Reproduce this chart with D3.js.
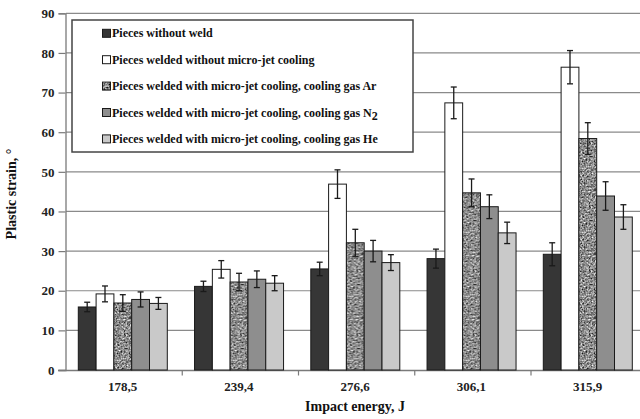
<!DOCTYPE html>
<html><head><meta charset="utf-8">
<script src="https://cdn.jsdelivr.net/npm/d3@7"></script>
<style>
html,body{margin:0;padding:0;background:#fff;}
svg{display:block;}
svg text{font-family:"Liberation Serif","Times New Roman",Times,"DejaVu Serif",serif !important;font-weight:bold;}
</style></head>
<body>
<svg id="chart" width="640" height="419"></svg>
<script>
const categories = ["178,5","239,4","276,6","306,1","315,9"];
const seriesNames = [
  "Pieces without weld",
  "Pieces welded without micro-jet cooling",
  "Pieces welded with micro-jet cooling, cooling gas Ar",
  "Pieces welded with micro-jet cooling, cooling gas N2",
  "Pieces welded with micro-jet cooling, cooling gas He"
];
const withoutWeld    = [15.9, 21.1, 25.5, 28.1, 29.2];
const withoutCooling = [19.2, 25.4, 46.9, 67.4, 76.4];
const gasAr          = [16.9, 22.2, 32.1, 44.7, 58.4];
const gasN2          = [17.8, 22.9, 30.0, 41.2, 43.9];
const gasHe          = [16.8, 21.9, 27.1, 34.6, 38.6];
const errWithoutWeld    = [1.2, 1.3, 1.7, 2.4, 2.9];
const errWithoutCooling = [2.0, 2.2, 3.6, 4.0, 4.2];
const errAr             = [2.1, 2.2, 3.4, 3.5, 4.0];
const errN2             = [1.9, 2.1, 2.7, 3.0, 3.6];
const errHe             = [1.5, 1.9, 2.0, 2.7, 3.1];
const yTicks = [0,10,20,30,40,50,60,70,80,90];

const values = [withoutWeld, withoutCooling, gasAr, gasN2, gasHe];
const errors = [errWithoutWeld, errWithoutCooling, errAr, errN2, errHe];
const fills = ["#363636", "#ffffff", "url(#speckle)", "#8e8e8e", "#c9c9c9"];

const svg = d3.select("#chart");
const defs = svg.append("defs");
const f = defs.append("filter").attr("id","noiseF")
  .attr("x",0).attr("y",0).attr("width",64).attr("height",64)
  .attr("filterUnits","userSpaceOnUse")
  .attr("color-interpolation-filters","sRGB");
f.append("feTurbulence").attr("type","fractalNoise").attr("baseFrequency",0.6)
  .attr("numOctaves",2).attr("seed",7).attr("result","t");
f.append("feColorMatrix").attr("type","matrix")
  .attr("values","0.75 0.75 0.75 0 -0.58  0.75 0.75 0.75 0 -0.58  0.75 0.75 0.75 0 -0.58  0 0 0 0 1");
const pat = defs.append("pattern").attr("id","speckle").attr("patternUnits","userSpaceOnUse")
  .attr("width",64).attr("height",64);
pat.append("rect").attr("width",64).attr("height",64).attr("fill","#8a8a8a");
pat.append("rect").attr("width",64).attr("height",64).attr("filter","url(#noiseF)");

const x0 = d3.scaleBand().domain(categories).range([66, 647.25]).padding(0);
const x1 = d3.scaleBand().domain(d3.range(5)).range([12.3, 101.3]).padding(0);
const y = d3.scaleLinear().domain([0,90]).range([370, 13.3]);

// gridlines
svg.append("g").selectAll("line").data(yTicks.filter(d=>d>0)).join("line")
  .attr("x1",66).attr("x2",647).attr("y1",d=>y(d)).attr("y2",d=>y(d))
  .attr("stroke","#8a8a8a").attr("stroke-width",1.2);

// y axis
const yAxis = svg.append("g").attr("transform","translate(65.5,0)")
  .call(d3.axisLeft(y).tickValues(yTicks).tickSize(7).tickPadding(4).tickFormat(d3.format("d")));
yAxis.attr("font-family",null);
yAxis.select(".domain").attr("stroke","#7a7a7a").attr("stroke-width",1.3);
yAxis.selectAll(".tick line").attr("stroke","#7a7a7a").attr("stroke-width",1.2);
yAxis.selectAll("text").attr("font-size",13).attr("fill","#222");

// x axis
const xAxis = svg.append("g").attr("transform","translate(0,370.5)");
xAxis.append("line").attr("x1",58).attr("x2",647).attr("stroke","#7a7a7a").attr("stroke-width",1.3);
xAxis.selectAll("line.tk").data(categories).join("line").attr("class","tk")
  .attr("x1",d=>x0(d)+x0.bandwidth()).attr("x2",d=>x0(d)+x0.bandwidth())
  .attr("y1",0).attr("y2",5).attr("stroke","#7a7a7a").attr("stroke-width",1.2);
xAxis.selectAll("text").data(categories).join("text")
  .attr("x",d=>x0(d)+x0.bandwidth()/2-1.5).attr("y",20)
  .attr("text-anchor","middle").attr("font-size",13).attr("fill","#222").text(d=>d);

// bars
const groups = svg.append("g").selectAll("g").data(categories).join("g")
  .attr("transform",d=>`translate(${x0(d)},0)`);
groups.each(function(cat, ci){
  const g = d3.select(this);
  for (let s=0; s<5; s++){
    const v = values[s][ci], e = errors[s][ci];
    const bx = x1(s), bw = x1.bandwidth();
    g.append("rect").attr("x",bx).attr("y",y(v)).attr("width",bw).attr("height",y(0)-y(v))
      .attr("fill",fills[s]).attr("stroke","#1a1a1a").attr("stroke-width",1);
    const cx = bx + bw/2;
    g.append("line").attr("x1",cx).attr("x2",cx).attr("y1",y(v+e)).attr("y2",y(v-e))
      .attr("stroke","#1a1a1a").attr("stroke-width",1.3);
    [v+e, v-e].forEach(t=>{
      g.append("line").attr("x1",cx-3).attr("x2",cx+3).attr("y1",y(t)).attr("y2",y(t))
        .attr("stroke","#1a1a1a").attr("stroke-width",1.3);
    });
  }
});

// legend
const lg = svg.append("g");
lg.append("rect").attr("x",72).attr("y",20).attr("width",341).attr("height",132)
  .attr("fill","#fff").attr("stroke","#444").attr("stroke-width",1.5);
seriesNames.forEach((name,i)=>{
  const cy = 33.3 + i*26.4;
  lg.append("rect").attr("x",102.5).attr("y",cy-4).attr("width",8).attr("height",8)
    .attr("fill",fills[i]).attr("stroke","#1a1a1a").attr("stroke-width",1);
  const t = lg.append("text").attr("x",112).attr("y",cy+4).attr("font-size",12).attr("fill","#111");
  if (name.endsWith("N2")) {
    t.append("tspan").text(name.slice(0,-1));
    t.append("tspan").attr("dy",3).text("2");
  } else t.text(name);
});

// axis titles
svg.append("text").attr("transform","translate(16,194) rotate(-90)")
  .attr("text-anchor","middle").attr("font-size",14).attr("fill","#111").text("Plastic strain, °");
svg.append("text").attr("x",355).attr("y",411)
  .attr("text-anchor","middle").attr("font-size",14).attr("fill","#111").text("Impact energy, J");
</script>
</body></html>
